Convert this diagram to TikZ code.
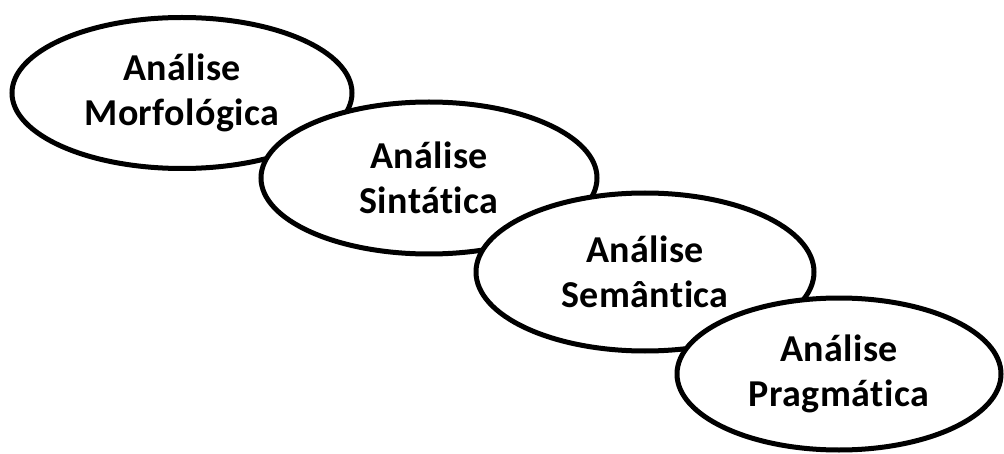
\documentclass[tikz,border=0pt]{standalone}
\usepackage{fontspec}
\setmainfont{Carlito}[Ligatures=NoCommon, LetterSpace=1.2]
\usetikzlibrary{shapes.geometric}
\begin{document}
\begin{tikzpicture}[x=1pt,y=1pt,
  stage/.style={ellipse, draw=black, line width=5pt, fill=white,
    inner sep=0pt, align=center,
    font=\fontsize{38}{45}\selectfont\bfseries}]
  % page frame
  \fill[white] (0,0) rectangle (1004,453);
  \useasboundingbox (0,0) rectangle (1004,453);
  % stages, each one drawn over the previous one
  \node[stage, minimum width=340pt, minimum height=151pt] (morf) at (182,360) {Análise\\Morfológica};
  \node[stage, minimum width=336pt, minimum height=152pt] (sint) at (429,275) {Análise\\Sintática};
  \node[stage, minimum width=338pt, minimum height=158pt] (sem) at (645,181) {Análise\\Semântica};
  \node[stage, minimum width=324pt, minimum height=152pt] (prag) at (839,79) {Análise\\Pragmática};
\end{tikzpicture}
\end{document}
